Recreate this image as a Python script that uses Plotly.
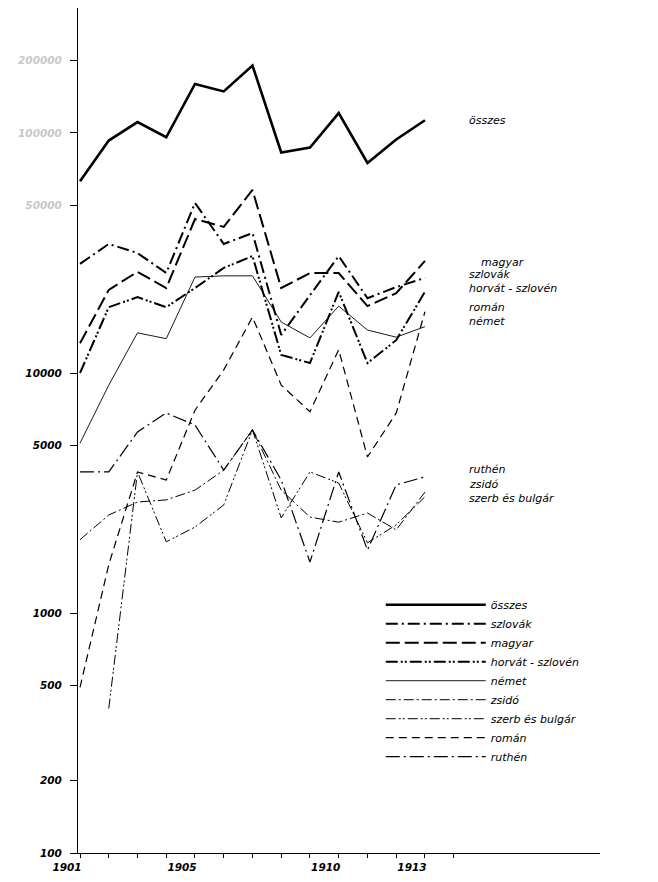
import math
import plotly.graph_objects as go

years = list(range(1901, 1914))

osszes = [63000, 93000, 111000, 96000, 160000, 149000, 191000, 83000, 87000, 121000, 75000, 94000, 113000]
magyar = [13300, 22200, 26400, 22600, 43800, 40600, 57900, 22600, 26100, 26100, 19000, 21500, 29300]
szlovak = [28500, 34500, 31600, 26100, 51100, 34500, 38300, 14400, 21100, 30700, 20500, 22800, 24900]
horvat = [10000, 18800, 20700, 18800, 22600, 27400, 30700, 11900, 11000, 21800, 11000, 13700, 21800]
nemet = [5100, 8900, 14700, 13900, 25100, 25400, 25400, 16300, 14000, 19000, 15100, 14100, 15600]
zsido = [2020, 2560, 2900, 2960, 3250, 3940, 5790, 3250, 2510, 2390, 2610, 2220, 3190]
szerb = [None, 400, 3870, 1980, 2280, 2820, 5790, 2490, 3870, 3480, 1960, 2330, 3050]
roman = [490, 1590, 3870, 3580, 7000, 10300, 17100, 8900, 6900, 12500, 4470, 6800, 18000]
ruthen = [3870, 3870, 5680, 6810, 6070, 3940, 5790, 3580, 1630, 3870, 1830, 3420, 3690]

series_names = ["összes", "szlovák", "magyar", "horvát - szlovén", "német",
                "zsidó", "szerb és bulgár", "román", "ruthén"]
series_values = [osszes, szlovak, magyar, horvat, nemet, zsido, szerb, roman, ruthen]
series_styles = [
    dict(width=2.6, dash="solid"),
    dict(width=2.0, dash="12px,4px,2px,4px"),
    dict(width=2.0, dash="14px,5px"),
    dict(width=2.0, dash="12px,3px,2px,2px,2px,3px"),
    dict(width=0.9, dash="solid"),
    dict(width=1.0, dash="10px,3px,2px,3px"),
    dict(width=1.0, dash="10px,3px,2px,2px,2px,3px"),
    dict(width=1.2, dash="8px,5px"),
    dict(width=1.2, dash="14px,4px,2px,4px"),
]

# end-of-line labels (name, label y value)
end_labels = ["összes", "magyar", "szlovák", "horvát - szlovén", "román", "német",
              "ruthén", "zsidó", "szerb és bulgár"]
end_label_vals = [113000, 29000, 25800, 22600, 18800, 16400, 3950, 3440, 3000]

ytick_vals = [100, 200, 500, 1000, 5000, 10000, 50000, 100000, 200000]
ytick_text = ["100", "200", "500", "1000", "5000", "10000",
              "<span style='color:#c8c8c8'>50000</span>",
              "<span style='color:#c8c8c8'>100000</span>",
              "<span style='color:#c8c8c8'>200000</span>"]
xtick_vals = list(range(1901, 1915))
xtick_labeled = [1901, 1905, 1910, 1913]
xtick_text = [str(v) if v in xtick_labeled else "" for v in xtick_vals]

fig = go.Figure()
for name, vals, st in zip(series_names, series_values, series_styles):
    fig.add_trace(go.Scatter(x=years, y=vals, mode="lines", name=name,
                             line=dict(color="black", width=st["width"], dash=st["dash"]),
                             connectgaps=False))

font_lab = dict(family="DejaVu Sans", size=11, color="black", style="italic")

for name, v in zip(end_labels, end_label_vals):
    fig.add_annotation(x=1914.48 if name != "magyar" else 1914.88, y=math.log10(v),
                       xref="x", yref="y", text=name, showarrow=False,
                       xanchor="left", yanchor="middle", font=font_lab)

fig.update_layout(
    width=650, height=874,
    margin=dict(l=70, r=58, t=0, b=29),
    paper_bgcolor="white", plot_bgcolor="white",
    showlegend=True,
    legend=dict(x=0.58, y=0.311, xanchor="left", yanchor="top",
                itemwidth=100, font=dict(family="DejaVu Sans", size=11, style="italic"),
                bgcolor="rgba(0,0,0,0)", tracegroupgap=0),
    font=dict(family="DejaVu Sans", color="black"),
)
fig.update_xaxes(range=[1900.93, 1919.09], tickvals=xtick_vals, ticktext=xtick_text,
                 ticks="outside", ticklen=4, tickcolor="black", showgrid=False,
                 ticklabelshift=-13,
                 showline=True, linecolor="black", linewidth=1, zeroline=False,
                 tickfont=dict(family="DejaVu Sans", size=10.5, style="italic", weight="bold"))
fig.update_yaxes(type="log", range=[2, 5.5208], tickvals=ytick_vals, ticktext=ytick_text,
                 ticks="outside", ticklen=7, tickcolor="black", showgrid=False,
                 ticklabelstandoff=6,
                 showline=True, linecolor="black", linewidth=1, zeroline=False,
                 tickfont=dict(family="DejaVu Sans", size=10.5, style="italic", weight="bold"))

fig.write_html("out.html")
